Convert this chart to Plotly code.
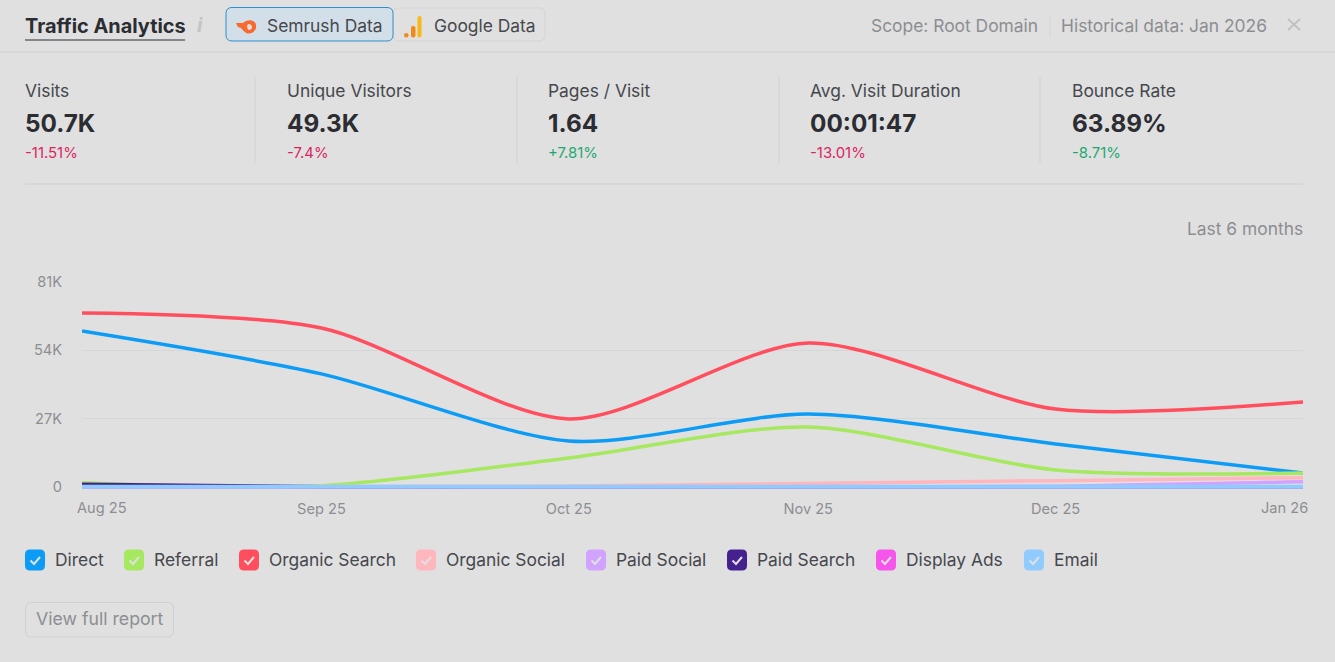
import plotly.graph_objects as go

# ---- data ----
x_days = [0, 30, 61, 91, 122, 153]
x_labels = ["Aug 25", "Sep 25", "Oct 25", "Nov 25", "Dec 25", "Jan 26"]
y_ticks = [0, 27000, 54000, 81000]
y_labels = ["0", "27K", "54K", "81K"]

direct = [61600, 44700, 18200, 28800, 17000, 5500]
referral = [1700, 500, 11500, 23700, 6700, 5500]
organic_search = [68800, 62800, 26900, 56900, 30800, 33600]
organic_social = [200, 200, 400, 1400, 2500, 3700]
paid_social = [100, 100, 100, 150, 300, 2100]
paid_search = [1100, 100, 100, 100, 100, 100]
display_ads = [100, 100, 100, 100, 100, 100]
email = [100, 100, 100, 100, 100, 100]

series_names = ["Direct", "Referral", "Organic Search", "Organic Social",
                "Paid Social", "Paid Search", "Display Ads", "Email"]
series_values = [direct, referral, organic_search, organic_social,
                 paid_social, paid_search, display_ads, email]
series_colors = ["#0d9cf5", "#a6e85f", "#ff4f5f", "#ffb6bd",
                 "#d1a3ff", "#45208f", "#f555ea", "#8fcbff"]
series_widths = [3.5, 3.5, 3.5, 3.5, 3.5, 3.5, 3.5, 4.2]

metric_names = ["Visits", "Unique Visitors", "Pages / Visit", "Avg. Visit Duration", "Bounce Rate"]
metric_values = ["50.7K", "49.3K", "1.64", "00:01:47", "63.89%"]
metric_deltas = ["-11.51%", "-7.4%", "+7.81%", "-13.01%", "-8.71%"]
delta_colors = ["#dc2660", "#dc2660", "#1fa971", "#dc2660", "#1fa971"]

# ---- layout geometry (pixels of the 1335x662 page) ----
W, H = 1335, 662
L, R, T, ZERO = 82, 1303, 282, 487
B = ZERO + 8                     # plot frame runs a little below zero so the base lines are not cut
Y_MIN = -(B - ZERO) / (ZERO - T) * y_ticks[-1]
BG = "#e0e0e0"
FONT = "Inter"
DARK, MID, SOFT = "#2b2d32", "#46484e", "#8c8e92"
BODY = 17.4


def px(v):
    return (v - L) / (R - L)


def py(v):
    return (B - v) / (B - T)


def pth(*pts):
    out = []
    for p in pts:
        if isinstance(p, str):
            out.append(p)
        else:
            out.append(f"{px(p[0]):.5f},{py(p[1]):.5f}")
    return " ".join(out)


def rrect(x0, y0, x1, y1, r):
    return pth("M", (x0 + r, y0), "L", (x1 - r, y0), "Q", (x1, y0), (x1, y0 + r),
               "L", (x1, y1 - r), "Q", (x1, y1), (x1 - r, y1),
               "L", (x0 + r, y1), "Q", (x0, y1), (x0, y1 - r),
               "L", (x0, y0 + r), "Q", (x0, y0), (x0 + r, y0), "Z")


shapes, annos = [], []


def path(d, fill=None, line=None, lw=1):
    shapes.append(dict(type="path", xref="paper", yref="paper", path=d,
                       fillcolor=fill or "rgba(0,0,0,0)",
                       line=dict(color=line or "rgba(0,0,0,0)", width=lw if line else 0)))


def hv(x0, y0, x1, y1, color, lw=1):
    shapes.append(dict(type="line", xref="paper", yref="paper", x0=px(x0), x1=px(x1),
                       y0=py(y0), y1=py(y1), line=dict(color=color, width=lw)))


def text(s, x, y, size, color, bold=False, anchor="left"):
    annos.append(dict(xref="paper", yref="paper", x=px(x), y=py(y), text=f"<b>{s}</b>" if bold else s,
                      showarrow=False, xanchor=anchor, yanchor="middle", align=anchor,
                      font=dict(family=FONT, size=size, color=color),
                      borderpad=0, borderwidth=0))


# header
text("Traffic Analytics", 25, 25.5, 19.9, DARK, bold=True)
hv(25, 40, 185, 40, DARK, 1.2)
text("<i>i</i>", 197, 25, 20, "#c4c4c4", bold=True)
path(rrect(393, 8, 545, 41, 6), fill="#e0e0e0", line="#d4d4d4")
path(rrect(226, 7.5, 393, 41, 6), fill="#d3dfe8", line="#2a90d2")
text("Semrush Data", 267, 25.5, BODY, MID)
text("Google Data", 434, 25.5, BODY, MID)
# Semrush flame mark
path(pth("M", (236, 23), "L", (243, 23), "Q", (246, 19.5), (252, 20.5), "Q", (257, 22), (256, 28),
         "Q", (254, 34), (247, 33.5), "Q", (243, 31), (241, 28), "L", (238, 27), "Z"), fill="#f7692e")
path(pth("M", (248, 24), "Q", (252, 24), (252, 27), "Q", (252, 30), (248.5, 30), "Q", (246, 27), (248, 24), "Z"),
     fill="#dfdfdf")
# Google Analytics mark
shapes.append(dict(type="circle", xref="paper", yref="paper", fillcolor="#f08a18", line=dict(width=0),
                   x0=px(404), x1=px(408.5), y0=py(37.5), y1=py(33)))
path(rrect(411, 26, 415.5, 37.5, 2), fill="#f08a18")
path(rrect(417.5, 16, 421.5, 37.5, 2), fill="#f7b818")

text("Scope: Root Domain", 871, 25.5, BODY, SOFT)
hv(1050, 17, 1050, 37, "#d4d4d4")
text("Historical data: Jan 2026", 1061, 25.5, BODY, SOFT)
hv(1288, 19, 1300, 30, "#c0c0c0", 1.8)
hv(1300, 19, 1288, 30, "#c0c0c0", 1.8)
hv(0, 52, W, 52, "#d2d2d2")

# metric strip
metric_x = [25, 287, 548, 810, 1072]
for i, mx in enumerate(metric_x):
    text(metric_names[i], mx, 90.5, BODY, MID)
    text(metric_values[i], mx, 123, 24.3, DARK, bold=True)
    text(metric_deltas[i], mx, 153, 14.9, delta_colors[i])
for vx in [255, 517, 779, 1040]:
    hv(vx, 77, vx, 163, "#d2d2d2")
hv(25, 184, 1303, 184, "#cfcfcf")
text("Last 6 months", 1303, 228.5, BODY, SOFT, anchor="right")

# legend
box_x = [25, 124, 239, 416, 586, 727, 876, 1024]
for name, color, bx in zip(series_names, series_colors, box_x):
    path(rrect(bx, 549.5, bx + 20, 570.5, 5), fill=color)
    path(pth("M", (bx + 5.5, 560.5), "L", (bx + 9, 564), "L", (bx + 15, 557)), line="#e0e0e0", lw=2)
    text(name, bx + 30, 559, BODY, MID)

# button
path(rrect(25.5, 602.5, 173.5, 637, 6), line="#d0d0d0")
text("View full report", 36, 618.5, 17.7, SOFT)

# first and last axis labels sit inside the plot edge, as in the source
annos.append(dict(xref="x", yref="paper", x=x_days[0], y=py(508), text=x_labels[0], showarrow=False,
                  xanchor="left", xshift=-7, yanchor="middle",
                  font=dict(family=FONT, size=14.6, color=SOFT)))
annos.append(dict(xref="x", yref="paper", x=x_days[-1], y=py(508), text=x_labels[-1], showarrow=False,
                  xanchor="right", xshift=7, yanchor="middle",
                  font=dict(family=FONT, size=14.6, color=SOFT)))

fig = go.Figure()
for name, vals, color, lw in zip(series_names, series_values, series_colors, series_widths):
    fig.add_trace(go.Scatter(x=x_days, y=vals, name=name, mode="lines", cliponaxis=False,
                             line=dict(color=color, width=lw, shape="spline", smoothing=0.8),
                             hoverinfo="x+y+name"))

fig.update_layout(
    width=W, height=H, autosize=False, showlegend=False,
    paper_bgcolor=BG, plot_bgcolor=BG,
    margin=dict(l=L, r=W - R, t=T, b=H - B, pad=0),
    font=dict(family=FONT, color=SOFT, size=14),
    shapes=shapes, annotations=annos,
    xaxis=dict(range=[x_days[0], x_days[-1]], tickmode="array",
               tickvals=x_days[1:-1], ticktext=x_labels[1:-1],
               showgrid=False, zeroline=False, showline=False, ticks="",
               ticklabelstandoff=3,
               tickfont=dict(family=FONT, size=14.6, color=SOFT), fixedrange=True),
    yaxis=dict(range=[Y_MIN, y_ticks[-1]], tickmode="array", tickvals=y_ticks, ticktext=y_labels,
               showgrid=True, gridcolor="#d6d6d6", gridwidth=1, zeroline=False, showline=False,
               ticks="", ticklabelstandoff=19,
               tickfont=dict(family=FONT, size=14.6, color=SOFT), fixedrange=True),
)

fig.write_html("out.html", config={"displayModeBar": False},
               post_script="document.body.style.margin='0';document.body.style.background='#e0e0e0';")
